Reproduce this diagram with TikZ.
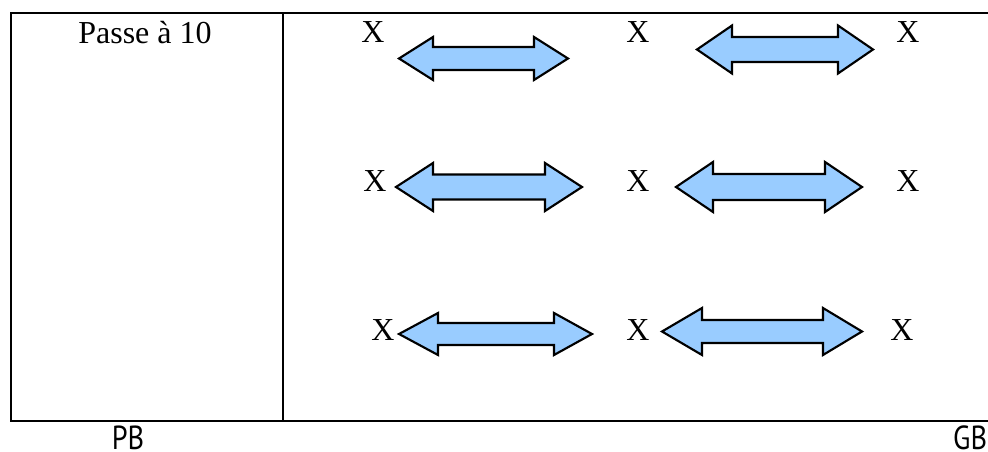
\documentclass[tikz,border=0pt]{standalone}
\usepackage{fontspec}
\setmainfont{Liberation Serif}
\newfontfamily\labfont{PT Sans}
\definecolor{arrowblue}{HTML}{99CCFF}
\tikzset{
  frame/.style={line width=1pt, draw=black},
  dblarrowstyle/.style={fill=arrowblue, draw=black, line width=1.6pt, line join=miter},
  xlab/.style={font=\fontsize{24}{24}\selectfont, anchor=base, inner sep=0pt},
  bottomlab/.style={font=\labfont\fontsize{25}{25}\selectfont, anchor=base, inner sep=0pt, xscale=0.85, transform shape},
}
% #1 name, #2 left tip x, #3 right tip x, #4 y, #5 left head length, #6 right head length, #7 head half height, #8 shaft half height
\newcommand{\mydblarrow}[8]{%
  \coordinate (#1-l) at (#2,#4);
  \coordinate (#1-r) at (#3,#4);
  \draw[dblarrowstyle] (#1-l) -- (#2+#5,#4-#7) -- (#2+#5,#4-#8) -- (#3-#6,#4-#8) -- (#3-#6,#4-#7)
     -- (#1-r) -- (#3-#6,#4+#7) -- (#3-#6,#4+#8) -- (#2+#5,#4+#8) -- (#2+#5,#4+#7) -- cycle;
}
\begin{document}
\begin{tikzpicture}[x=0.75pt,y=-0.75pt]
\useasboundingbox (0,0) rectangle (988,452);
% table
\coordinate (tl) at (11,13);
\coordinate (tr) at (990,13);
\coordinate (bl) at (11,421);
\coordinate (br) at (990,421);
\coordinate (dt) at (283,13);
\coordinate (db) at (283,421);
\draw[frame] (tr) -- (tl) -- (bl) -- (br);
\draw[frame] (dt) -- (db);
\node[xlab] (title) at (145,44) {Passe à 10};
% row 1
\node[xlab] (x11) at (373,43) {X};
\node[xlab] (x12) at (638,43) {X};
\node[xlab] (x13) at (908,43) {X};
\mydblarrow{a11}{399}{568}{58.5}{34}{34}{21.5}{11.5}
\mydblarrow{a12}{697}{873}{49.5}{35}{35}{24}{12.5}
% row 2
\node[xlab] (x21) at (375,192) {X};
\node[xlab] (x22) at (638,192) {X};
\node[xlab] (x23) at (908,192) {X};
\mydblarrow{a21}{396}{582}{187}{37}{37}{24}{12.5}
\mydblarrow{a22}{676}{862}{187}{37}{37}{25}{13}
% row 3
\node[xlab] (x31) at (383,340) {X};
\node[xlab] (x32) at (638,340) {X};
\node[xlab] (x33) at (902,340) {X};
\mydblarrow{a31}{399}{592}{334}{39}{38}{21}{11}
\mydblarrow{a32}{662}{862}{331.5}{40}{39}{23.5}{11.5}
% bottom labels
\node[bottomlab] (pb) at (128,449) {PB};
\node[bottomlab, anchor=base west] (gb) at (953,449) {GB};
\end{tikzpicture}
\end{document}
